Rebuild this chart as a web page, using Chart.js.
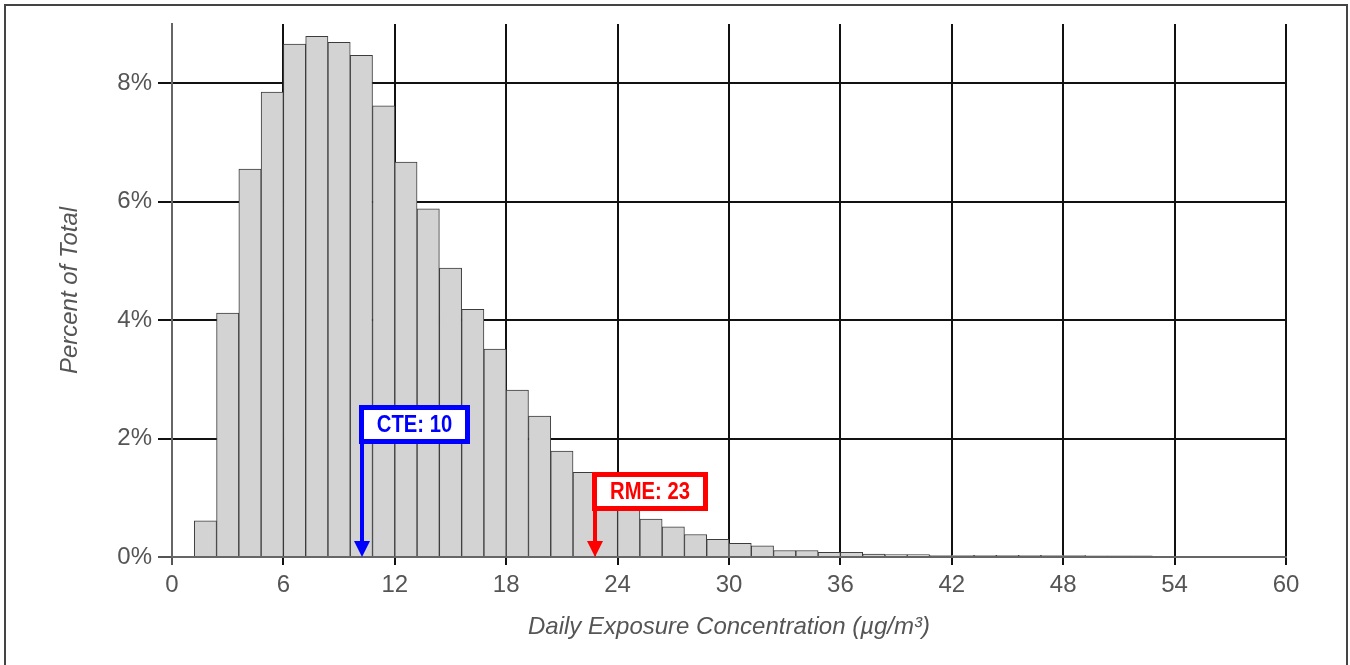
<!DOCTYPE html>
<html>
<head>
<meta charset="utf-8">
<title>Daily Exposure Concentration</title>
<script src="https://cdn.jsdelivr.net/npm/chart.js@4.4.1/dist/chart.umd.min.js"></script>
<style>
    html, body { margin: 0; padding: 0; background: #fff; }
    #wrap { width: 1350px; height: 665px; }
</style>
</head>
<body>
<div id="wrap"><canvas id="histChart" width="1350" height="665"></canvas></div>
<script>
// Histogram bins (lower edge, µg/m³) and their share of all samples (%)
const binWidth = 1.2;
const binStarts = [1.2, 2.4, 3.6, 4.8, 6.0, 7.2, 8.4, 9.6, 10.8, 12.0, 13.2, 14.4, 15.6, 16.8, 18.0,
    19.2, 20.4, 21.6, 22.8, 24.0, 25.2, 26.4, 27.6, 28.8, 30.0, 31.2, 32.4, 33.6, 34.8, 36.0,
    37.2, 38.4, 39.6, 40.8, 42.0, 43.2, 44.4, 45.6, 46.8, 48.0, 49.2, 50.4, 51.6];
const percentOfTotal = [0.61, 4.12, 6.55, 7.85, 8.66, 8.79, 8.69, 8.47, 7.62, 6.67, 5.88, 4.88, 4.18, 3.51, 2.82,
    2.38, 1.79, 1.43, 1.17, 0.95, 0.64, 0.51, 0.38, 0.30, 0.23, 0.19, 0.11, 0.11, 0.08, 0.08,
    0.05, 0.04, 0.04, 0.03, 0.03, 0.03, 0.03, 0.03, 0.03, 0.03, 0.02, 0.02, 0.02];

// Marker arrows (central tendency / reasonable maximum exposure)
const markerLabels = ['CTE: 10', 'RME: 23'];
const markerValues = [10.23, 22.8];
const markerColors = ['#0000ff', '#ff0000'];

const axisFont = { family: "'Liberation Sans', Arial, sans-serif", size: 24 };
const titleFont = { family: "'Liberation Sans', Arial, sans-serif", size: 24, style: 'italic' };
const textGrey = '#555';

// Outer frame + marker boxes with arrows
const markersPlugin = {
    id: 'markers',
    beforeDraw(chart) {
        const ctx = chart.ctx;
        ctx.save();
        ctx.strokeStyle = '#444';
        ctx.lineWidth = 2;
        ctx.strokeRect(5, 5, 1342, 720);
        ctx.restore();
    },
    afterDatasetsDraw(chart, args, opts) {
        const { ctx, scales: { x, y } } = chart;
        const base = y.getPixelForValue(0);
        markerValues.forEach((v, i) => {
            const px = Math.round(x.getPixelForValue(v));
            const top = Math.round(y.getPixelForValue(opts.boxTops[i]));
            ctx.save();
            ctx.font = opts.font;
            const textW = ctx.measureText(markerLabels[i]).width * opts.squeeze;
            const w = Math.round(textW + opts.padX * 2);
            const h = opts.boxHeight;
            const left = px - 3;
            ctx.strokeStyle = markerColors[i];
            ctx.fillStyle = markerColors[i];

            // shaft
            ctx.lineWidth = 4;
            ctx.beginPath();
            ctx.moveTo(px, top + h);
            ctx.lineTo(px, base - 14);
            ctx.stroke();
            // head
            ctx.beginPath();
            ctx.moveTo(px - 8, base - 16);
            ctx.lineTo(px + 8, base - 16);
            ctx.lineTo(px, base);
            ctx.closePath();
            ctx.fill();

            // label box
            ctx.fillStyle = '#fff';
            ctx.fillRect(left, top, w, h);
            ctx.lineWidth = opts.border;
            ctx.strokeRect(left + opts.border / 2, top + opts.border / 2, w - opts.border, h - opts.border);
            ctx.fillStyle = markerColors[i];
            ctx.textAlign = 'center';
            ctx.textBaseline = 'middle';
            ctx.translate(left + w / 2, top + h / 2 + 1);
            ctx.scale(opts.squeeze, 1);
            ctx.fillText(markerLabels[i], 0, 0);
            ctx.restore();
        });
    }
};

const ctx = document.getElementById('histChart').getContext('2d');

new Chart(ctx, {
    type: 'bar',
    data: {
        datasets: [{
            label: 'Percent of Total',
            data: binStarts.map((b, i) => ({ x: b + binWidth / 2, y: percentOfTotal[i] })),
            backgroundColor: '#d3d3d3',
            borderColor: '#3c3c3c',
            borderWidth: 1,
            barPercentage: 1,
            categoryPercentage: 1,
            grouped: false
        }]
    },
    options: {
        responsive: false,
        animation: false,
        devicePixelRatio: 1,
        layout: { padding: { left: 0, top: 24, right: 64, bottom: 0 } },
        plugins: {
            legend: { display: false },
            tooltip: { enabled: false },
            markers: {
                boxTops: [2.57, 1.44],
                boxHeight: 39,
                padX: 18,
                border: 5,
                squeeze: 0.88,
                font: "bold 23px 'Liberation Sans', Arial, sans-serif"
            }
        },
        scales: {
            x: {
                type: 'linear',
                min: 0,
                max: 60,
                offset: false,
                afterFit: s => { s.height = 108; },
                ticks: { stepSize: 6, font: axisFont, color: textGrey, padding: 6, maxRotation: 0, autoSkip: false },
                grid: {
                    offset: false,
                    color: c => c.tick && c.tick.value === 0 ? '#555' : '#111',
                    lineWidth: 2,
                    tickLength: 8
                },
                border: { color: '#666', width: 2 },
                title: {
                    display: true,
                    text: 'Daily Exposure Concentration (µg/m³)',
                    font: titleFont,
                    color: textGrey,
                    padding: { top: 0, bottom: 23 }
                }
            },
            y: {
                min: 0,
                max: 9,
                afterFit: s => { s.width = 172; },
                ticks: {
                    stepSize: 2,
                    includeBounds: false,
                    font: axisFont,
                    color: textGrey,
                    padding: 6,
                    callback: v => v + '%'
                },
                grid: {
                    color: c => c.tick && c.tick.value === 0 ? '#555' : '#111',
                    lineWidth: 2,
                    tickLength: 14
                },
                border: { color: '#666', width: 2 },
                title: {
                    display: true,
                    text: 'Percent of Total',
                    font: titleFont,
                    color: textGrey,
                    padding: { top: 56, bottom: 0 }
                }
            }
        }
    },
    plugins: [markersPlugin]
});
</script>
</body>
</html>
